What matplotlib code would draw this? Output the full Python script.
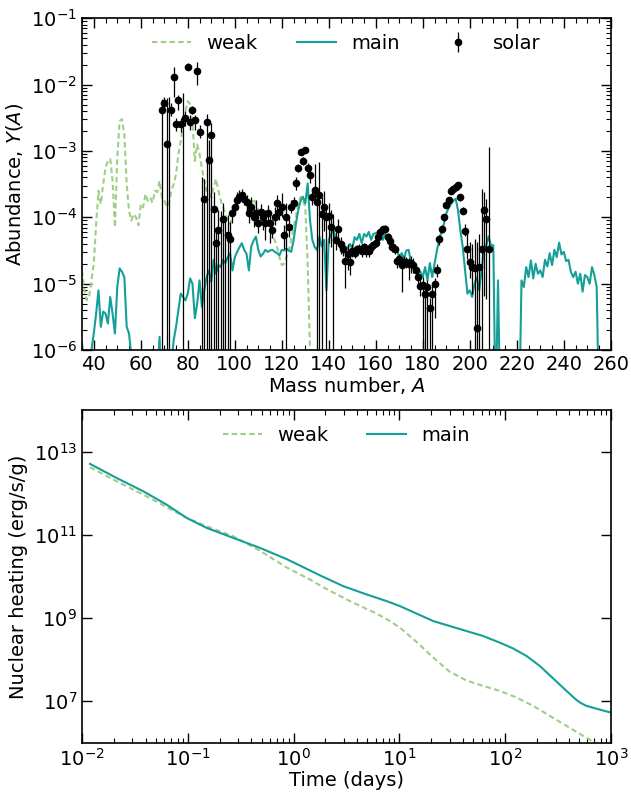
import numpy as np
import matplotlib
matplotlib.use("Agg")
import matplotlib.pyplot as plt
from matplotlib.ticker import MultipleLocator, LogLocator, NullLocator

# ---- top panel: abundance pattern (log10 Y per mass number) ----
A_WEAK_START = 35
weak_log = [
    -4.8, -5.1, -5.25, -5.2, -4.95, -4.7, -4.1, -3.6, -3.8, -3.5,
    -3.25, -3.15, -3.12, -3.45, -4.15, -3.1, -2.55, -2.52, -2.75, -3.5,
    -3.9, -4.05, -3.95, -4.0, -4.12, -3.8, -3.85, -3.65, -3.75, -3.7,
    -3.78, -3.6, -3.62, -3.45, -3.7, -3.74, -3.84, -3.8, -3.6, -3.5,
    -3.35, -3.05, -2.85, -2.6, -2.4, -2.25, -2.3, -2.55, -3.15, -2.9,
    -3.05, -3.25, -3.45, -3.6, -3.6, -3.7, -3.55, -3.42, -3.6, -3.74,
    -3.85, -3.95, -4.05, -4.1, -4.0, -3.85, -3.75, -3.7, -3.68, -3.67,
    -3.8, -3.94, -3.8, -3.72, -3.8, -3.89, -3.92, -3.95, -4.0, -4.05,
    -4.09, -4.2, -4.35, -4.45, -4.6, -4.72, -4.7, -4.6, -4.5, -4.34,
    -4.15, -3.99, -3.8, -3.69, -3.75, -3.84, -4.69, -6.0, -7.5,
]

A_MAIN_START = 35
main_log = [
    -5.9, -6.3, -6.0, -6.5, -6.0, -5.75, -5.45, -5.1, -5.65, -5.42,
    -5.45, -5.6, -5.2, -5.45, -5.75, -5.05, -4.77, -4.82, -4.9, -5.65,
    -5.75, -6.1, -7, -7, -7, -7, -6.3, -6.0, -7, -6.5,
    -6.0, -7, -6.4, -5.8, -7, -7, -6.3, -6.0, -6.2, -5.85,
    -5.65, -5.4, -5.15, -5.2, -5.25, -5.15, -4.92, -5.0, -5.52, -5.3,
    -4.95, -5.35, -5.1, -4.9, -4.8, -4.97, -4.64, -4.85, -4.72, -4.75,
    -4.64, -4.69, -4.6, -4.54, -4.8, -4.6, -4.52, -4.45, -4.39, -4.49,
    -4.55, -4.8, -4.44, -4.35, -4.29, -4.49, -4.59, -4.55, -4.49, -4.52,
    -4.5, -4.49, -4.52, -4.54, -4.57, -4.49, -4.5, -4.47, -4.5, -4.52,
    -4.35, -4.1, -3.89, -3.75, -3.69, -3.79, -3.49, -4.04, -4.34, -4.45,
    -4.49, -4.29, -4.44, -4.34, -5.1, -4.34, -4.25, -4.19, -4.34, -4.4,
    -4.47, -4.45, -4.44, -4.47, -4.4, -4.47, -4.3, -4.34, -4.25, -4.39,
    -4.25, -4.29, -4.22, -4.34, -4.25, -4.24, -4.22, -4.24, -4.34, -4.24,
    -4.3, -4.34, -4.39, -4.42, -4.47, -4.62, -4.54, -4.62, -4.5, -4.49,
    -4.69, -4.7, -4.75, -4.8, -4.82, -4.9, -4.75, -4.95, -4.69, -4.9,
    -4.7, -4.5, -4.34, -4.2, -4.1, -3.94, -3.86, -3.8, -3.75, -3.72,
    -3.9, -4.2, -4.45, -4.8, -5.15, -5.1, -5.2, -5.0, -4.9, -5.1,
    -4.8, -4.5, -4.42, -4.29, -4.42, -4.42, -7, -4.95, -7, -7,
    -7, -7, -7, -7, -7, -7, -7, -4.95, -5.05, -4.75,
    -4.9, -4.65, -4.92, -4.7, -4.85, -4.8, -4.9, -4.64, -4.74, -4.54,
    -4.72, -4.49, -4.6, -4.38, -4.56, -4.52, -4.66, -4.64, -4.82, -4.9,
    -4.82, -5.0, -4.85, -5.12, -4.87, -4.9, -5.0, -4.75, -4.87, -5.05,
    -7,
]

# solar r-process residuals: mass number, log10 Y, lower / upper error (dex)
solar_A = list(range(69, 209))
solar_log = [
    -2.39, -2.28, -2.89, -7.5, -2.38, -1.88, -2.60, -2.23, -2.60, -7.5,
    -2.50, -1.73, -2.56, -2.39, -2.54, -1.80, -2.71, -7.5, -3.72, -2.56,
    -3.13, -2.76, -3.87, -4.39, -4.19, -7.5, -4.03, -7.5, -4.27, -4.32,
    -3.94, -3.84, -3.74, -3.69, -3.67, -3.72, -3.77, -3.94, -3.84, -3.99,
    -3.94, -4.09, -3.92, -3.99, -4.09, -3.94, -4.09, -4.19, -3.99, -3.79,
    -3.92, -3.84, -4.27, -3.99, -4.14, -3.84, -3.78, -3.49, -3.25, -3.01,
    -3.15, -2.98, -3.26, -3.36, -3.69, -3.59, -3.77, -3.67, -3.95, -3.85,
    -3.99, -3.98, -4.14, -7.5, -4.34, -4.18, -4.40, -4.47, -4.66, -4.55,
    -4.67, -4.50, -4.53, -4.48, -4.47, -4.50, -4.45, -4.50, -4.50, -4.45,
    -4.42, -4.39, -4.30, -4.22, -4.18, -4.17, -4.29, -4.36, -4.44, -4.48,
    -4.66, -4.63, -4.72, -4.67, -4.68, -4.70, -4.69, -4.72, -4.80, -4.90,
    -5.04, -5.02, -5.16, -5.05, -5.37, -5.16, -5.01, -4.80, -4.33, -4.17,
    -4.00, -3.82, -3.74, -3.60, -3.57, -3.54, -3.52, -3.70, -3.90, -4.20,
    -4.48, -4.67, -4.75, -4.77, -5.67, -4.75, -4.48, -3.89, -4.03, -4.48,
]
solar_dlo = [
    5, 0.12, 5, 0, 0.10, 0.31, 0.10, 0.15, 0.12, 0,
    0.12, 0.05, 0.12, 0.06, 0.15, 0.20, 0.10, 0, 5, 5,
    5, 5, 5, 5, 5, 0, 5, 0, 5, 5,
    0.15, 0.10, 0.10, 0.10, 0.08, 0.10, 0.15, 0.15, 0.15, 0.15,
    0.15, 0.15, 0.12, 0.20, 0.25, 0.12, 0.30, 0.12, 0.12, 0.15,
    0.12, 0.15, 0.20, 5, 0.15, 0.10, 0.08, 0.10, 0.06, 0.04,
    0.06, 0.04, 0.08, 0.12, 0.12, 0.15, 5, 5, 5, 0.35,
    5, 0.40, 0.30, 0, 0.15, 0.20, 0.15, 0.12, 0.40, 0.25,
    0.20, 0.10, 0.08, 0.07, 0.07, 0.10, 0.07, 0.10, 0.10, 0.08,
    0.07, 0.06, 0.06, 0.06, 0.05, 0.05, 0.06, 0.08, 0.08, 0.08,
    0.10, 0.10, 0.40, 0.08, 0.08, 0.25, 0.15, 0.12, 0.12, 0.12,
    0.15, 5, 5, 5, 5, 5, 0.50, 0.10, 0.08, 0.06,
    0.05, 0.04, 0.04, 0.03, 0.03, 0.03, 0.03, 0.05, 0.05, 0.08,
    0.15, 0.25, 0.40, 5, 5, 5, 5, 1.3, 1.2, 5,
]
solar_dhi = [
    0.17, 0.10, 0.69, 5.31, 0.10, 0.15, 0.10, 0.08, 0.10, 5.37,
    0.10, 0.05, 0.10, 0.06, 0.08, 0.14, 0.10, 4.11, 0.30, 0.12,
    0.30, 0.18, 0.25, 0.20, 0.30, 3.60, 0.25, 3.50, 0.30, 0.25,
    0.12, 0.10, 0.12, 0.10, 0.10, 0.10, 0.10, 0.12, 0.15, 0.12,
    0.20, 0.15, 0.12, 0.12, 0.20, 0.12, 0.15, 0.12, 0.15, 0.12,
    0.12, 0.20, 0.15, 0.20, 0.12, 0.10, 0.08, 0.10, 0.06, 0.04,
    0.06, 0.04, 0.08, 0.10, 0.12, 0.40, 0.15, 0.50, 0.25, 0.25,
    0.15, 0.20, 0.25, 3.55, 0.12, 0.15, 0.10, 0.10, 0.15, 0.15,
    0.15, 0.10, 0.08, 0.07, 0.07, 0.10, 0.07, 0.10, 0.10, 0.08,
    0.07, 0.06, 0.06, 0.06, 0.05, 0.05, 0.06, 0.08, 0.08, 0.08,
    0.08, 0.08, 0.12, 0.08, 0.08, 0.08, 0.10, 0.10, 0.10, 0.10,
    0.12, 0.12, 0.12, 0.10, 0.15, 0.15, 0.10, 0.10, 0.07, 0.05,
    0.05, 0.04, 0.04, 0.03, 0.03, 0.03, 0.03, 0.05, 0.05, 0.10,
    0.25, 0.30, 0.35, 0.45, 1.3, 0.5, 0.9, 0.27, 0.30, 1.54,
]

# ---- bottom panel: nuclear heating rate (log10 days, log10 erg/s/g) ----
log_t_weak = [-1.924, -1.672, -1.42, -1.2, -1.01, -0.821, -0.57, -0.318,
              -0.065, 0.155, 0.297, 0.533, 0.769, 0.9, 1.006, 1.163,
              1.321, 1.478, 1.636, 1.793, 1.951, 2.109, 2.266, 2.423,
              2.581, 2.738, 2.833, 3.0]
log_q_weak = [12.63, 12.29, 11.97, 11.67, 11.41, 11.21, 10.97, 10.62,
              10.22, 9.93, 9.72, 9.41, 9.13, 8.95, 8.77, 8.43,
              8.05, 7.71, 7.5, 7.37, 7.25, 7.09, 6.89, 6.65,
              6.41, 6.17, 6.03, 5.72]

log_t_main = [-1.924, -1.672, -1.42, -1.2, -1.01, -0.821, -0.57, -0.318,
              -0.065, 0.266, 0.47, 0.691, 0.88, 1.006,
              1.163, 1.321, 1.478, 1.636, 1.793, 1.951, 2.077, 2.203,
              2.329, 2.455, 2.581, 2.676, 2.723, 2.77, 2.896, 3.0]
log_q_main = [12.71, 12.37, 12.05, 11.73, 11.41, 11.17, 10.93, 10.69,
              10.42, 10.01, 9.77, 9.57, 9.41, 9.29,
              9.11, 8.93, 8.81, 8.69, 8.57, 8.41, 8.27, 8.09,
              7.85, 7.55, 7.25, 7.03, 6.95, 6.89, 6.80, 6.73]

WEAK_COLOR = '#9dcf86'
MAIN_COLOR = '#14a098'
WEAK_DASHES = (2.6, 1.6)

plt.rcParams['font.size'] = 14
plt.rcParams['mathtext.fontset'] = 'dejavusans'


def style_axis(ax):
    for side in ax.spines.values():
        side.set_linewidth(1.2)
    ax.tick_params(which='both', direction='in', top=True, right=True,
                   labelsize=14)
    ax.tick_params(which='major', length=7, width=1.0)
    ax.tick_params(which='minor', length=3.5, width=0.8)


fig = plt.figure(figsize=(6.31, 7.92), dpi=100)
ax1 = fig.add_axes([0.130, 0.558, 0.838, 0.419])
ax2 = fig.add_axes([0.130, 0.062, 0.838, 0.420])

# top panel
a_weak = np.arange(A_WEAK_START, A_WEAK_START + len(weak_log))
a_main = np.arange(A_MAIN_START, A_MAIN_START + len(main_log))
ax1.plot(a_weak, 10.0 ** np.array(weak_log), '--', color=WEAK_COLOR,
         lw=1.5, dashes=WEAK_DASHES, label='weak')
ax1.plot(a_main, 10.0 ** np.array(main_log), '-', color=MAIN_COLOR,
         lw=1.5, label='main')

sy = 10.0 ** np.array(solar_log)
s_lo = sy - 10.0 ** (np.array(solar_log) - np.array(solar_dlo))
s_hi = 10.0 ** (np.array(solar_log) + np.array(solar_dhi)) - sy
ax1.errorbar(solar_A, sy, yerr=[s_lo, s_hi], fmt='o', color='k', ms=4.5,
             elinewidth=0.9, capsize=0, label='solar', zorder=3)

ax1.set_yscale('log')
ax1.set_xlim(35, 260)
ax1.set_ylim(1e-6, 1e-1)
ax1.xaxis.set_major_locator(MultipleLocator(20))
ax1.xaxis.set_minor_locator(MultipleLocator(5))
ax1.yaxis.set_major_locator(LogLocator(base=10))
ax1.yaxis.set_minor_locator(LogLocator(base=10, subs=np.arange(2, 10)))
ax1.set_xlabel('Mass number, $A$', fontsize=14, labelpad=1)
ax1.set_ylabel('Abundance, $Y(A)$', fontsize=14)
style_axis(ax1)
ax1.legend(loc='upper center', ncol=3, frameon=False, fontsize=14,
           handlelength=2.0, handletextpad=0.8, columnspacing=2.0,
           borderaxespad=0.4)

# bottom panel
ax2.plot(10.0 ** np.array(log_t_weak), 10.0 ** np.array(log_q_weak), '--',
         color=WEAK_COLOR, lw=1.5, dashes=WEAK_DASHES, label='weak')
ax2.plot(10.0 ** np.array(log_t_main), 10.0 ** np.array(log_q_main), '-',
         color=MAIN_COLOR, lw=1.5, label='main')
ax2.set_xscale('log')
ax2.set_yscale('log')
ax2.set_xlim(1e-2, 1e3)
ax2.set_ylim(1e6, 1e14)
ax2.xaxis.set_major_locator(LogLocator(base=10))
ax2.xaxis.set_minor_locator(LogLocator(base=10, subs=np.arange(2, 10)))
ax2.set_yticks([1e7, 1e9, 1e11, 1e13])
ax2.yaxis.set_minor_locator(NullLocator())
ax2.set_xlabel('Time (days)', fontsize=14, labelpad=1)
ax2.set_ylabel('Nuclear heating (erg/s/g)', fontsize=14)
style_axis(ax2)
ax2.legend(loc='upper center', ncol=2, frameon=False, fontsize=14,
           handlelength=2.0, handletextpad=0.8, columnspacing=2.0,
           borderaxespad=0.4)

fig.savefig('out.png', dpi=100)
